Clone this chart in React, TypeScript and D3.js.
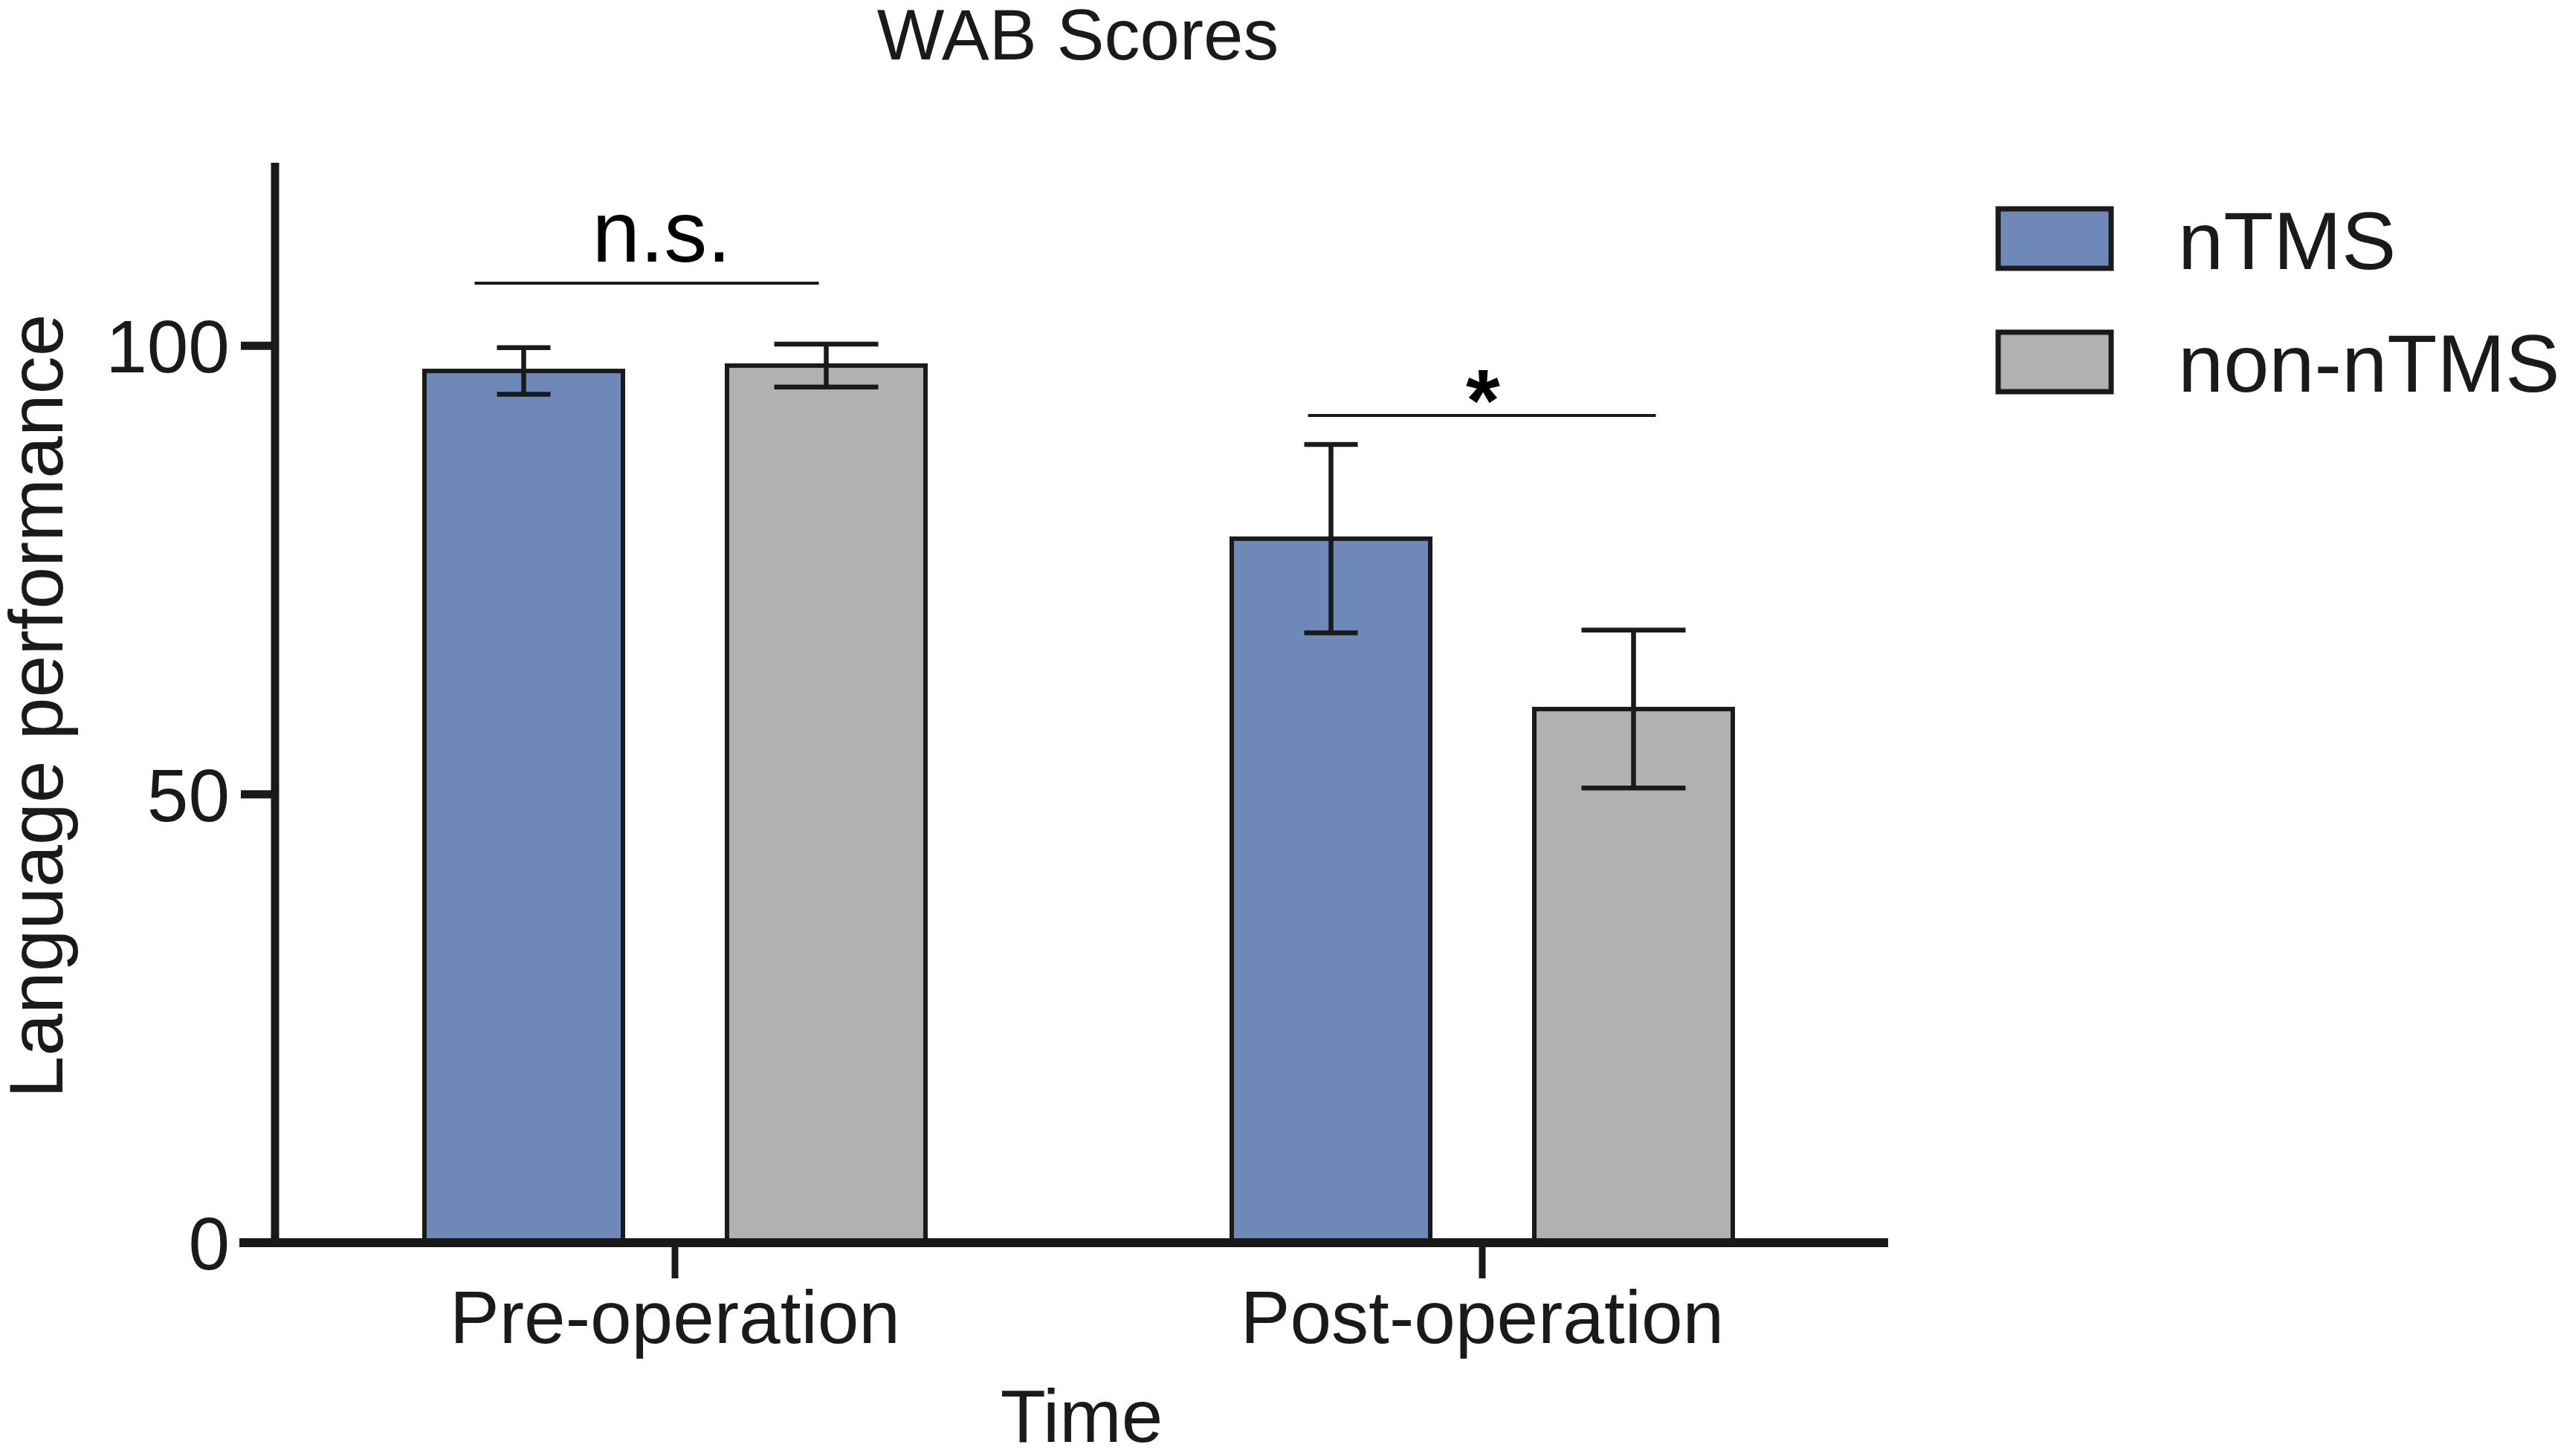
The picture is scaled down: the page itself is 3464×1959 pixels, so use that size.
import React from "react";
import * as d3 from "d3";

const categories = ["Pre-operation", "Post-operation"];
const seriesNames = ["nTMS", "non-nTMS"];
const nTMSMeans = [97.2, 78.5];
const nTMSErrors = [2.6, 10.5];
const nonNTMSMeans = [97.8, 59.5];
const nonNTMSErrors = [2.4, 8.8];
const yTicks = [0, 50, 100];
const seriesColors = ["#6E88B7", "#B1B1B3"];
const sigLabels = ["n.s.", "*"];

const W = 3464;
const H = 1959;
const FONT = "'Liberation Sans', Arial, Helvetica, sans-serif";
const INK = "#1a1a1a";

export default function App() {
  const y = d3.scaleLinear().domain([0, 120]).range([1672, 224]);
  const x = d3.scaleBand().domain(categories).range([365, 2537]).paddingInner(0).paddingOuter(0);
  const xs = d3.scaleBand().domain(seriesNames).range([-337, 337]).paddingInner(0.344).paddingOuter(0);
  const capW = [72, 140];

  const data = seriesNames.map((s, si) => ({
    name: s,
    color: seriesColors[si],
    means: si === 0 ? nTMSMeans : nonNTMSMeans,
    errs: si === 0 ? nTMSErrors : nonNTMSErrors,
  }));

  const center = (c: string) => (x(c) as number) + x.bandwidth() / 2;
  const barCenter = (c: string, s: string) => center(c) + (xs(s) as number) + xs.bandwidth() / 2;

  return (
    <svg
      width={W}
      height={H}
      viewBox={`0 0 ${W} ${H}`}
      style={{ position: "absolute", left: 0, top: 0, background: "#fff" }}
      fontFamily={FONT}
    >
      <rect x={0} y={0} width={W} height={H} fill="#fff" />
      {/* title */}
      <text x={1450} y={80} fontSize={96} textAnchor="middle" fill={INK}>
        WAB Scores
      </text>

      {/* bars */}
      {data.map((d) =>
        categories.map((c, ci) => {
          const bx = center(c) + (xs(d.name) as number);
          return (
            <rect
              key={d.name + c}
              x={bx}
              y={y(d.means[ci])}
              width={xs.bandwidth()}
              height={y(0) - y(d.means[ci])}
              fill={d.color}
              stroke={INK}
              strokeWidth={6}
            />
          );
        })
      )}

      {/* error bars */}
      {data.map((d, si) =>
        categories.map((c, ci) => {
          const cx = barCenter(c, d.name);
          const hi = y(d.means[ci] + d.errs[ci]);
          const lo = y(d.means[ci] - d.errs[ci]);
          const hw = capW[si] / 2;
          return (
            <g key={"e" + d.name + c} stroke={INK} strokeWidth={6.5}>
              <line x1={cx} x2={cx} y1={hi} y2={lo} />
              <line x1={cx - hw} x2={cx + hw} y1={hi} y2={hi} />
              <line x1={cx - hw} x2={cx + hw} y1={lo} y2={lo} />
            </g>
          );
        })
      )}

      {/* significance */}
      <line
        x1={barCenter(categories[0], seriesNames[0]) - 66}
        x2={barCenter(categories[0], seriesNames[1]) - 10}
        y1={381}
        y2={381}
        stroke={INK}
        strokeWidth={4}
      />
      <text x={890} y={352} fontSize={116} textAnchor="middle" fill="#000">
        {sigLabels[0]}
      </text>
      <line
        x1={barCenter(categories[1], seriesNames[0]) - 31}
        x2={barCenter(categories[1], seriesNames[1]) + 30}
        y1={559}
        y2={559}
        stroke={INK}
        strokeWidth={4}
      />
      <text x={1995} y={580} fontSize={118} fontWeight="bold" textAnchor="middle" fill="#000">
        {sigLabels[1]}
      </text>

      {/* y axis */}
      <line x1={370} x2={370} y1={y(120) - 5} y2={y(0) + 6} stroke={INK} strokeWidth={11} />
      {yTicks.map((t) => (
        <g key={"yt" + t}>
          <line x1={324} x2={370} y1={y(t)} y2={y(t)} stroke={INK} strokeWidth={11} />
          <text x={309} y={y(t) + 36} fontSize={100} textAnchor="end" fill={INK}>
            {t}
          </text>
        </g>
      ))}

      {/* x axis */}
      <line x1={322} x2={2540} y1={y(0)} y2={y(0)} stroke={INK} strokeWidth={12} />
      {categories.map((c) => (
        <g key={"xt" + c}>
          <line x1={center(c)} x2={center(c)} y1={y(0)} y2={y(0) + 48} stroke={INK} strokeWidth={9} />
          <text x={center(c)} y={1807} fontSize={100} textAnchor="middle" fill={INK}>
            {c}
          </text>
        </g>
      ))}

      {/* axis titles */}
      <text x={1455} y={1940} fontSize={100} textAnchor="middle" fill={INK}>
        Time
      </text>
      <text
        transform={`translate(84, 950) rotate(-90)`}
        fontSize={102}
        textAnchor="middle"
        fill={INK}
      >
        Language performance
      </text>

      {/* legend */}
      {data.map((d, i) => (
        <g key={"lg" + d.name}>
          <rect
            x={2688}
            y={281 + i * 166}
            width={152}
            height={80}
            fill={d.color}
            stroke={INK}
            strokeWidth={7}
          />
          <text x={2930} y={362 + i * 165} fontSize={110} fill={INK}>
            {d.name}
          </text>
        </g>
      ))}
    </svg>
  );
}
